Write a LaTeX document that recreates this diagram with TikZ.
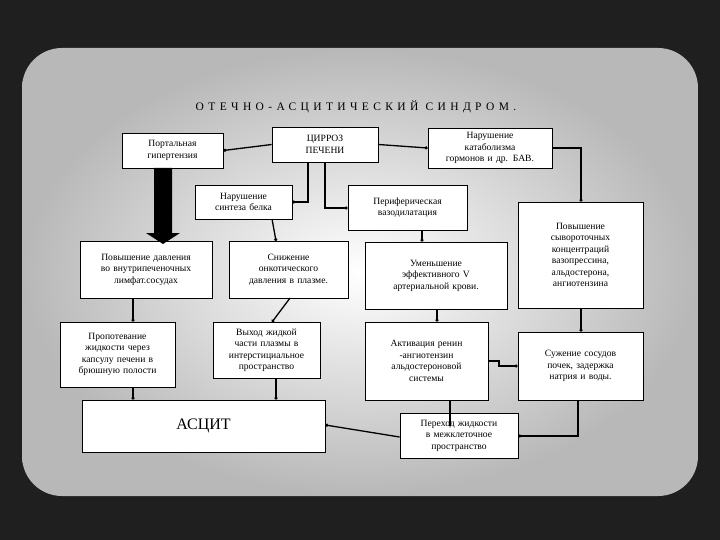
\documentclass[tikz,border=0pt]{standalone}
\usepackage{fontspec}
\setmainfont{Liberation Serif}
\usetikzlibrary{arrows.meta,calc}
\begin{document}
\begin{tikzpicture}[x=1pt,y=-1pt,
 box/.style={draw=black,fill=white,line width=0.8pt,align=center,inner sep=1pt,font=\fontsize{9.6}{11.5}\selectfont},
 con/.style={line width=1.3pt,-{Circle[length=3pt]}},
 ln/.style={line width=1.3pt}]
\useasboundingbox (0,0) rectangle (720,540);
\fill[black!88] (0,0) rectangle (720,540);
\shade[inner color=white,outer color=black!28,rounded corners=40pt] (22,48) rectangle (698,496);
\node[font=\fontsize{11.5}{13}\selectfont\addfontfeatures{LetterSpace=38}] (t) at (356,107) {ОТЕЧНО-АСЦИТИЧЕСКИЙ СИНДРОМ.};
\def\bx#1#2#3#4#5#6{\node[box,minimum width=#4-#2,minimum height=#5-#3,text width=#4-#2-4] (#1) at ({(#2+#4)/2},{(#3+#5)/2}) {#6};}
\bx{port}{122}{133}{223}{168}{Портальная\\гипертензия}
\bx{cir}{272}{127}{378}{162}{ЦИРРОЗ\\ПЕЧЕНИ}
\bx{cat}{428}{128}{552}{168}{Нарушение\\катаболизма\\гормонов и др. БАВ.}
\bx{sin}{195}{185}{292}{219}{Нарушение\\синтеза белка}
\bx{per}{348}{185}{467}{230}{Периферическая\\вазодилатация}
\bx{syv}{518}{202}{643}{308}{Повышение\\сывороточных\\концентраций\\вазопрессина,\\альдостерона,\\ангиотензина}
\bx{dav}{80}{241}{212}{298}{Повышение давления\\во внутрипеченочных\\лимфат.сосудах}
\bx{sni}{229}{241}{348}{298}{Снижение\\онкотического\\давления в плазме.}
\bx{ume}{365}{242}{507}{309}{Уменьшение\\эффективного V\\артериальной крови.}
\bx{pro}{60}{322}{175}{387}{Пропотевание\\жидкости через\\капсулу печени в\\брюшную полости}
\bx{vyh}{213}{322}{320}{378}{Выход жидкой\\части плазмы в\\интерстициальное\\пространство}
\bx{akt}{365}{322}{488}{400}{Активация ренин\\-ангиотензин\\альдостероновой\\системы}
\bx{suz}{518}{332}{643}{400}{Сужение сосудов\\почек, задержка\\натрия и воды.}
\node[box,minimum width=243,minimum height=52,font=\fontsize{16}{18}\selectfont] (asc) at (203.5,426) {АСЦИТ};
\bx{per2}{400}{413}{518}{458}{Переход жидкости\\в межклеточное\\пространство}
\draw[con] (cir.west) -- (port.east);
\draw[con] (cir.east) -- (cat.west);
\draw[con] (cir.south -| 308,0) |- (sin.east);
\draw[con] (cir.south -| 325,0) |- (per.west |- 0,208);
\fill[black] (154,168) rectangle (172,233) (146,233) -- (180,233) -- (163,244) -- cycle;
\draw[con] (272,219) -- (276,241);
\draw[con] (290,298) -- (272,322);
\draw[con] (dav.south -| 133,0) -- (pro.north -| 133,0);
\draw[con] (pro.south -| 133,0) -- (asc.north -| 133,0);
\draw[con] (vyh.south -| 276,0) -- (asc.north -| 276,0);
\draw[con] (per.south -| 422,0) -- (ume.north -| 422,0);
\draw[con] (ume.south -| 437,0) -- (akt.north -| 437,0);
\draw[con] (cat.east |- 0,148) -| (syv.north -| 581,0);
\draw[con] (syv.south -| 581,0) -- (suz.north -| 581,0);
\draw[con] (akt.east |- 0,361) -- (499,361) -- (499,366) -- (suz.west |- 0,366);
\draw[ln] (akt.south -| 450,0) -- (450,426);
\draw[con] (suz.south -| 578,0) |- (per2.east |- 0,436);
\draw[con] (per2.west |- 0,437) -- (asc.east |- 0,425);
\end{tikzpicture}
\end{document}
